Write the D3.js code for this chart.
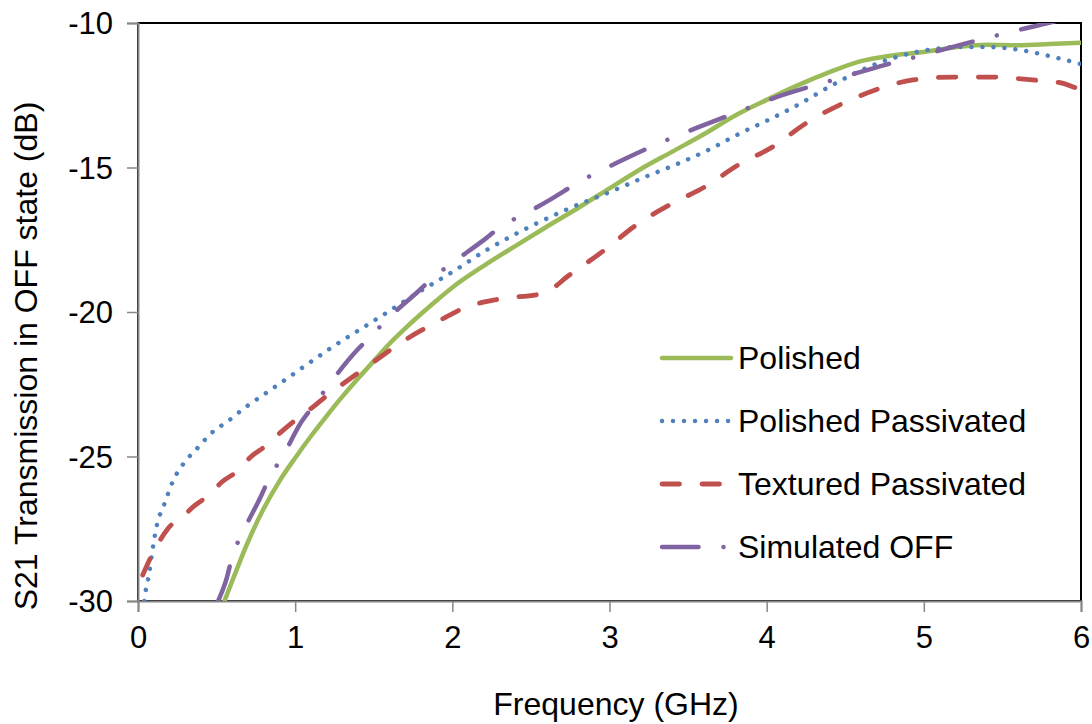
<!DOCTYPE html>
<html>
<head>
<meta charset="utf-8">
<script src="https://cdn.jsdelivr.net/npm/d3@7"></script>
<style>
  html, body { margin: 0; padding: 0; background: #fff; }
  svg { display: block; font-family: "Liberation Sans", Arial, sans-serif; }
</style>
</head>
<body>
<svg id="chart" width="1092" height="724"></svg>
<script>
// Frequency (GHz) / S21 (dB) pairs for each measured and simulated trace
const polished = [
  [0.55,-30],[0.6,-29.3],[0.7,-27.95],[0.8,-26.8],[0.9,-25.85],[1.0,-25.05],[1.1,-24.3],
  [1.2,-23.6],[1.3,-22.93],[1.4,-22.3],[1.5,-21.7],[1.6,-21.1],[1.7,-20.57],[1.8,-20.07],
  [1.9,-19.6],[2.0,-19.15],[2.2,-18.4],[2.4,-17.72],[2.6,-17.05],[2.8,-16.4],[3.0,-15.72],
  [3.2,-15.05],[3.4,-14.45],[3.6,-13.85],[3.8,-13.2],[4.0,-12.66],[4.2,-12.15],[4.4,-11.7],
  [4.6,-11.32],[4.8,-11.12],[5.0,-11.0],[5.2,-10.84],[5.4,-10.75],[5.6,-10.77],[5.8,-10.73],[6.0,-10.68]
];
const polishedPassivated = [
  [0.04,-30],[0.045,-29.79],[0.072,-29.02],[0.093,-28.21],[0.119,-27.4],[0.168,-26.64],
  [0.221,-25.87],[0.299,-25.18],[0.373,-24.74],[0.469,-24.18],[0.581,-23.74],[0.695,-23.25],
  [0.819,-22.79],[0.935,-22.35],[1.24,-21.2],[1.54,-20.17],[1.79,-19.3],[1.99,-18.65],
  [2.22,-17.85],[2.49,-17.06],[2.75,-16.4],[3.02,-15.81],[3.23,-15.32],[3.43,-14.88],
  [3.63,-14.39],[3.83,-13.82],[4.02,-13.33],[4.21,-12.8],[4.4,-12.2],[4.68,-11.45],
  [4.96,-11.0],[5.23,-10.83],[5.4,-10.83],[5.61,-10.93],[5.82,-11.17],[6.0,-11.42]
];
const texturedPassivated = [
  [0.03,-29.1],[0.08,-28.5],[0.14,-27.9],[0.19,-27.5],[0.3,-27.0],[0.36,-26.7],[0.46,-26.3],
  [0.53,-25.9],[0.64,-25.47],[0.71,-25.05],[0.82,-24.6],[0.9,-24.2],[1.01,-23.7],[1.11,-23.3],
  [1.2,-22.9],[1.3,-22.5],[1.48,-21.8],[1.69,-21.0],[1.9,-20.35],[2.09,-19.83],[2.3,-19.55],
  [2.58,-19.35],[2.75,-18.7],[2.97,-17.85],[3.17,-16.99],[3.38,-16.3],[3.61,-15.66],
  [3.82,-14.91],[4.04,-14.28],[4.25,-13.47],[4.49,-12.77],[4.7,-12.3],[4.93,-11.97],
  [5.19,-11.87],[5.44,-11.87],[5.69,-11.97],[5.88,-12.08],[5.97,-12.25],[6.0,-12.3]
];
const simulatedOff = [
  [0.51,-30],[0.565,-29.2],[0.6,-28.45],[0.66,-27.7],[0.78,-26.4],[0.84,-25.7],[0.92,-25.0],
  [1.04,-23.8],[1.13,-23.15],[1.22,-22.48],[1.38,-21.4],[1.48,-20.85],[1.58,-20.28],
  [1.78,-19.3],[1.88,-18.8],[2.0,-18.3],[2.21,-17.47],[2.32,-17.0],[2.45,-16.64],[2.62,-16.12],
  [2.81,-15.49],[3.05,-14.83],[3.3,-14.2],[3.55,-13.64],[3.81,-13.09],[4.07,-12.55],
  [4.47,-11.9],[4.72,-11.5],[5.0,-11.1],[5.25,-10.73],[5.4,-10.52],[5.55,-10.31],[5.79,-10.0],[5.9,-9.85]
];

const seriesNames = ["Polished", "Polished Passivated", "Textured Passivated", "Simulated OFF"];
const xTickValues = [0, 1, 2, 3, 4, 5, 6];
const yTickValues = [-30, -25, -20, -15, -10];
const xTitle = "Frequency (GHz)";
const yTitle = "S21 Transmission in OFF state (dB)";

const series = [
  { name: seriesNames[0], data: polished,           color: "#9BBB59", width: 4.5, dash: null },
  { name: seriesNames[1], data: polishedPassivated, color: "#4F81BD", width: 4.5, dash: "0.01,11" },
  { name: seriesNames[2], data: texturedPassivated, color: "#C0504D", width: 4.8, dash: "17.5,22.5" },
  { name: seriesNames[3], data: simulatedOff,       color: "#8064A2", width: 4.5, dash: "36.5,25,0.01,25" }
];

const svg = d3.select("#chart");
const plot = { left: 138, right: 1081, top: 23, bottom: 601 };

const x = d3.scaleLinear().domain([0, 6]).range([plot.left, plot.right]);
const y = d3.scaleLinear().domain([-30, -10]).range([plot.bottom, plot.top]);

svg.append("defs").append("clipPath").attr("id", "plotClip")
  .append("rect")
  .attr("x", plot.left).attr("y", plot.top)
  .attr("width", plot.right - plot.left).attr("height", plot.bottom - plot.top);

// plot frame
svg.append("rect")
  .attr("x", plot.left).attr("y", plot.top)
  .attr("width", plot.right - plot.left).attr("height", plot.bottom - plot.top)
  .attr("fill", "none").attr("stroke", "#000").attr("stroke-width", 2);

// axes
const axisColor = "#868686";
const xAxis = svg.append("g")
  .attr("transform", `translate(0,${plot.bottom})`)
  .call(d3.axisBottom(x).tickValues(xTickValues).tickSize(11).tickPadding(14).tickFormat(d3.format("d")));
const yAxis = svg.append("g")
  .attr("transform", `translate(${plot.left},0)`)
  .call(d3.axisLeft(y).tickValues(yTickValues).tickSize(11).tickPadding(14).tickFormat(d => d3.format("d")(d).replace("−", "-")));

[xAxis, yAxis].forEach(g => {
  g.select(".domain").attr("stroke", axisColor).attr("stroke-width", 2);
  g.selectAll(".tick line").attr("stroke", axisColor).attr("stroke-width", 1.5);
  g.selectAll(".tick text").attr("fill", "#000").style("font-size", "31px")
    .style("font-family", "'Liberation Sans', Arial, sans-serif");
});
yAxis.selectAll(".tick text").attr("dy", "0.35em");
xAxis.selectAll(".tick text").attr("dy", "0.71em");

// axis titles
svg.append("text")
  .attr("x", 616).attr("y", 715)
  .attr("text-anchor", "middle").style("font-size", "32px").attr("fill", "#000")
  .text(xTitle);

svg.append("text")
  .attr("transform", "translate(37,356) rotate(-90)")
  .attr("text-anchor", "middle").style("font-size", "32px").attr("fill", "#000")
  .text(yTitle);

// traces
const line = d3.line()
  .x(d => x(d[0])).y(d => y(d[1]))
  .curve(d3.curveMonotoneX);

const traces = svg.append("g").attr("clip-path", "url(#plotClip)");
series.forEach(s => {
  traces.append("path")
    .datum(s.data)
    .attr("d", line)
    .attr("fill", "none")
    .attr("stroke", s.color)
    .attr("stroke-width", s.width)
    .attr("stroke-linecap", "round")
    .attr("stroke-linejoin", "round")
    .attr("stroke-dasharray", s.dash);
});

// legend
const legend = svg.append("g");
const legendRows = [358, 421, 484, 547];
series.forEach((s, i) => {
  const row = legend.append("g").attr("transform", `translate(0,${legendRows[i]})`);
  row.append("line")
    .attr("x1", 662).attr("x2", 731).attr("y1", 0).attr("y2", 0)
    .attr("stroke", s.color).attr("stroke-width", s.width)
    .attr("stroke-linecap", "round")
    .attr("stroke-dasharray", s.dash);
  row.append("text")
    .attr("x", 738).attr("y", 0).attr("dy", "0.35em")
    .style("font-size", "32px").attr("fill", "#000")
    .text(s.name);
});
</script>
</body>
</html>
